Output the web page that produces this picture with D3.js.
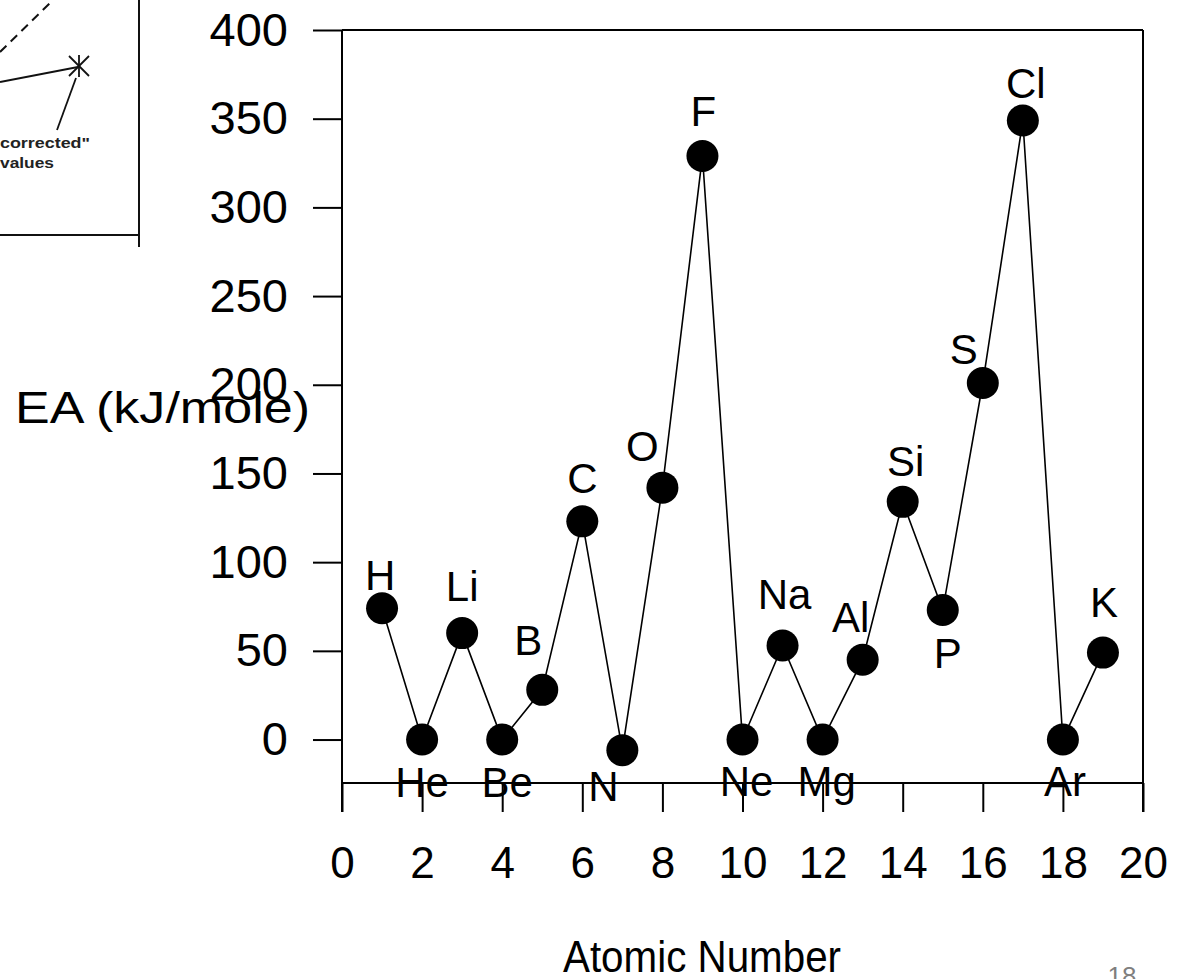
<!DOCTYPE html>
<html>
<head>
<meta charset="utf-8">
<script src="https://cdn.jsdelivr.net/npm/d3@7"></script>
<style>
  html, body { margin: 0; padding: 0; background: #fff; }
  svg { display: block; }
  text { font-family: "Liberation Sans", Arial, sans-serif; fill: #000; }
</style>
</head>
<body>
<svg id="chart" width="1185" height="979"></svg>
<script>
// ---- data ----
const elements = ["H","He","Li","Be","B","C","N","O","F","Ne","Na","Mg","Al","Si","P","S","Cl","Ar","K"];
const atomicNumbers = [1,2,3,4,5,6,7,8,9,10,11,12,13,14,15,16,17,18,19];
const eaValues = [74,0,60,0,28,123,-6,142,329,0,53,0,45,134,73,201,349,0,49];
const xTickValues = [0,2,4,6,8,10,12,14,16,18,20];
const yTickValues = [0,50,100,150,200,250,300,350,400];

// label placement (dx, dy from point centre to label centre/baseline)
const labelOffsets = [
  [-2,-18],[0,57],[0,-32],[5,57],[-14,-35],[0,-28],[-19,51],[-20,-27],[1,-30],
  [4,56],[2,-37],[4,56],[-12,-28],[3,-26],[5,58],[-19,-19],[3,-22],[2,56],[1,-36]
];

(function () {
const svg = d3.select("#chart");

// ---- inset fragment (top-left) ----
const inset = svg.append("g");
inset.append("line").attr("x1",0).attr("y1",52).attr("x2",53).attr("y2",0)
  .attr("stroke","#111").attr("stroke-width",2).attr("stroke-dasharray","9,6");
inset.append("line").attr("x1",0).attr("y1",82).attr("x2",78).attr("y2",67)
  .attr("stroke","#111").attr("stroke-width",1.8);
const ax = 79, ay = 66;
[[-10,-10,10,10],[-10,10,10,-10],[0,-11,0,11]].forEach(d => {
  inset.append("line").attr("x1",ax+d[0]).attr("y1",ay+d[1]).attr("x2",ax+d[2]).attr("y2",ay+d[3])
    .attr("stroke","#111").attr("stroke-width",1.8);
});
inset.append("line").attr("x1",76).attr("y1",78).attr("x2",57).attr("y2",130)
  .attr("stroke","#111").attr("stroke-width",1.8);
inset.append("text").attr("x",0).attr("y",148).attr("font-size",15).attr("font-weight","bold")
  .attr("font-family","DejaVu Sans, sans-serif").attr("textLength",90).attr("lengthAdjust","spacingAndGlyphs")
  .style("fill","#222").text("corrected\"");
inset.append("text").attr("x",0).attr("y",168).attr("font-size",15).attr("font-weight","bold")
  .attr("font-family","DejaVu Sans, sans-serif").attr("textLength",54).attr("lengthAdjust","spacingAndGlyphs")
  .style("fill","#222").text("values");
inset.append("line").attr("x1",139).attr("y1",0).attr("x2",139).attr("y2",247)
  .attr("stroke","#111").attr("stroke-width",2);
inset.append("line").attr("x1",0).attr("y1",235).attr("x2",139).attr("y2",235)
  .attr("stroke","#111").attr("stroke-width",2);

// ---- scales ----
const x = d3.scaleLinear().domain([0,20]).range([342,1143]);
const y = d3.scaleLinear().domain([-24.5,400]).range([783,30]);

const pLeft = x(0), pRight = x(20), pTop = y(400), pBottom = y(-24.5);
const tickLen = 29;

// ---- axes ----
const xAxis = svg.append("g").attr("transform",`translate(0,${pBottom})`)
  .call(d3.axisBottom(x).tickValues(xTickValues).tickSize(tickLen).tickPadding(35).tickFormat(d3.format("d")));
xAxis.select(".domain").remove();
xAxis.selectAll("line").attr("stroke","#000").attr("stroke-width",2);
xAxis.selectAll("text").attr("font-size",44).attr("font-family","Liberation Sans, Arial, sans-serif").attr("fill","#000");

const yAxis = svg.append("g").attr("transform",`translate(${pLeft},0)`)
  .call(d3.axisLeft(y).tickValues(yTickValues).tickSize(tickLen).tickPadding(25).tickFormat(d3.format("d")));
yAxis.select(".domain").remove();
yAxis.selectAll("line").attr("stroke","#000").attr("stroke-width",2);
yAxis.selectAll("text").attr("font-size",47).attr("font-family","Liberation Sans, Arial, sans-serif").attr("fill","#000");

// frame
const frame = svg.append("g").attr("stroke","#000").attr("stroke-width",2).attr("fill","none");
frame.append("line").attr("x1",pLeft).attr("y1",pTop).attr("x2",pLeft).attr("y2",pBottom+tickLen);
frame.append("line").attr("x1",pLeft).attr("y1",pTop).attr("x2",pRight).attr("y2",pTop);
frame.append("line").attr("x1",pRight).attr("y1",pTop).attr("x2",pRight).attr("y2",pBottom+tickLen);
frame.append("line").attr("x1",pLeft).attr("y1",pBottom).attr("x2",pRight).attr("y2",pBottom);

// ---- data line & points ----
const pts = atomicNumbers.map((n,i) => ({n, v: eaValues[i], el: elements[i], off: labelOffsets[i]}));
svg.append("path").datum(pts)
  .attr("d", d3.line().x(d => x(d.n)).y(d => y(d.v)))
  .attr("fill","none").attr("stroke","#000").attr("stroke-width",1.6);

svg.append("g").selectAll("circle").data(pts).join("circle")
  .attr("cx", d => x(d.n)).attr("cy", d => y(d.v)).attr("r",16).attr("fill","#000");

svg.append("g").selectAll("text").data(pts).join("text")
  .attr("x", d => x(d.n) + d.off[0]).attr("y", d => y(d.v) + d.off[1])
  .attr("text-anchor","middle").attr("font-size",42)
  .text(d => d.el);

// ---- axis titles ----
svg.append("text").attr("x",15).attr("y",423).attr("font-size",44)
  .attr("textLength",295).attr("lengthAdjust","spacingAndGlyphs")
  .text("EA (kJ/mole)");
svg.append("text").attr("x",563).attr("y",972).attr("font-size",45)
  .attr("textLength",278).attr("lengthAdjust","spacingAndGlyphs")
  .text("Atomic Number");

// page number
svg.append("text").attr("x",1122).attr("y",985).attr("text-anchor","middle")
  .attr("font-size",26).attr("font-family","Noto Sans, Open Sans, sans-serif")
  .style("fill","#7f7f7f").text("18");
})();
</script>
</body>
</html>
